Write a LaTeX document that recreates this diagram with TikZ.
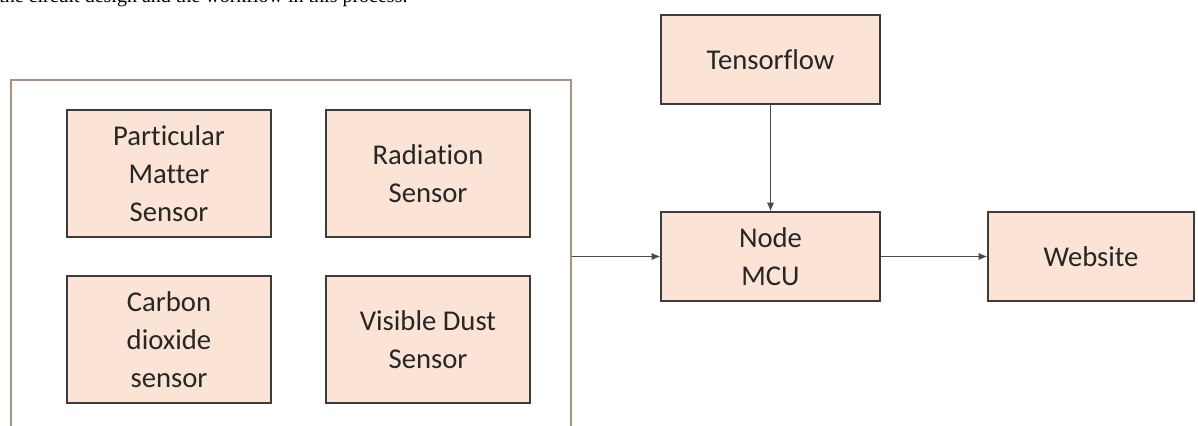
\documentclass[tikz,border=0pt]{standalone}
\usepackage{fontspec}
\setmainfont{Carlito}[Ligatures={NoCommon,NoContextual}]
\newfontfamily\captionfont{Liberation Serif}
\usetikzlibrary{arrows.meta}
\definecolor{boxfill}{HTML}{FBE3D5}
\definecolor{boxline}{HTML}{3C3C3C}
\definecolor{grpline}{HTML}{A8927F}
\definecolor{arrline}{HTML}{4A4A4A}
\tikzset{
  blk/.style={draw=boxline, line width=1.1pt, fill=boxfill, align=center,
    inner sep=0pt, font=\fontsize{21.5pt}{28.5pt}\selectfont, text=black!85},
  grp/.style={draw=grpline, line width=1.3pt, fill=white, inner sep=0pt},
  arr/.style={draw=arrline, line width=0.8pt, -{Latex[length=6.5pt,width=5.5pt]}}
}
\begin{document}
\begin{tikzpicture}[x=0.75pt,y=-0.75pt]
\useasboundingbox (0,0) rectangle (1198,425);
\clip (0,0) rectangle (1198,425);
\fill[white] (0,0) rectangle (1198,425);
% caption fragment cut by the top edge
\node[anchor=base west, inner sep=0pt, font=\captionfont\fontsize{15pt}{18pt}\selectfont] (cap) at (-1,2) {the circuit design and the workflow in this process.};
% sensor group
\node[grp, minimum width=560*0.75pt, minimum height=360*0.75pt] (group) at (291,260) {};
\node[blk, minimum width=204*0.75pt, minimum height=127*0.75pt] (pm) at (169,173.5) {Particular\\Matter\\Sensor};
\node[blk, minimum width=204*0.75pt, minimum height=127*0.75pt] (rad) at (428,173.5) {Radiation\\Sensor};
\node[blk, minimum width=204*0.75pt, minimum height=127*0.75pt] (co2) at (169,339.5) {Carbon\\dioxide\\sensor};
\node[blk, minimum width=204*0.75pt, minimum height=127*0.75pt] (dust) at (428,339.5) {Visible Dust\\Sensor};
% right side
\node[blk, minimum width=219*0.75pt, minimum height=89*0.75pt] (tf) at (770.5,59.5) {Tensorflow};
\node[blk, minimum width=219*0.75pt, minimum height=89*0.75pt] (mcu) at (770.5,256.5) {Node\\MCU};
\node[blk, minimum width=206*0.75pt, minimum height=89*0.75pt] (web) at (1091,256.5) {Website};
% connectors
\draw[arr] (group.east |- mcu.west) -- (mcu.west);
\draw[arr] (tf.south) -- (mcu.north);
\draw[arr] (mcu.east) -- (web.west);
\end{tikzpicture}
\end{document}
